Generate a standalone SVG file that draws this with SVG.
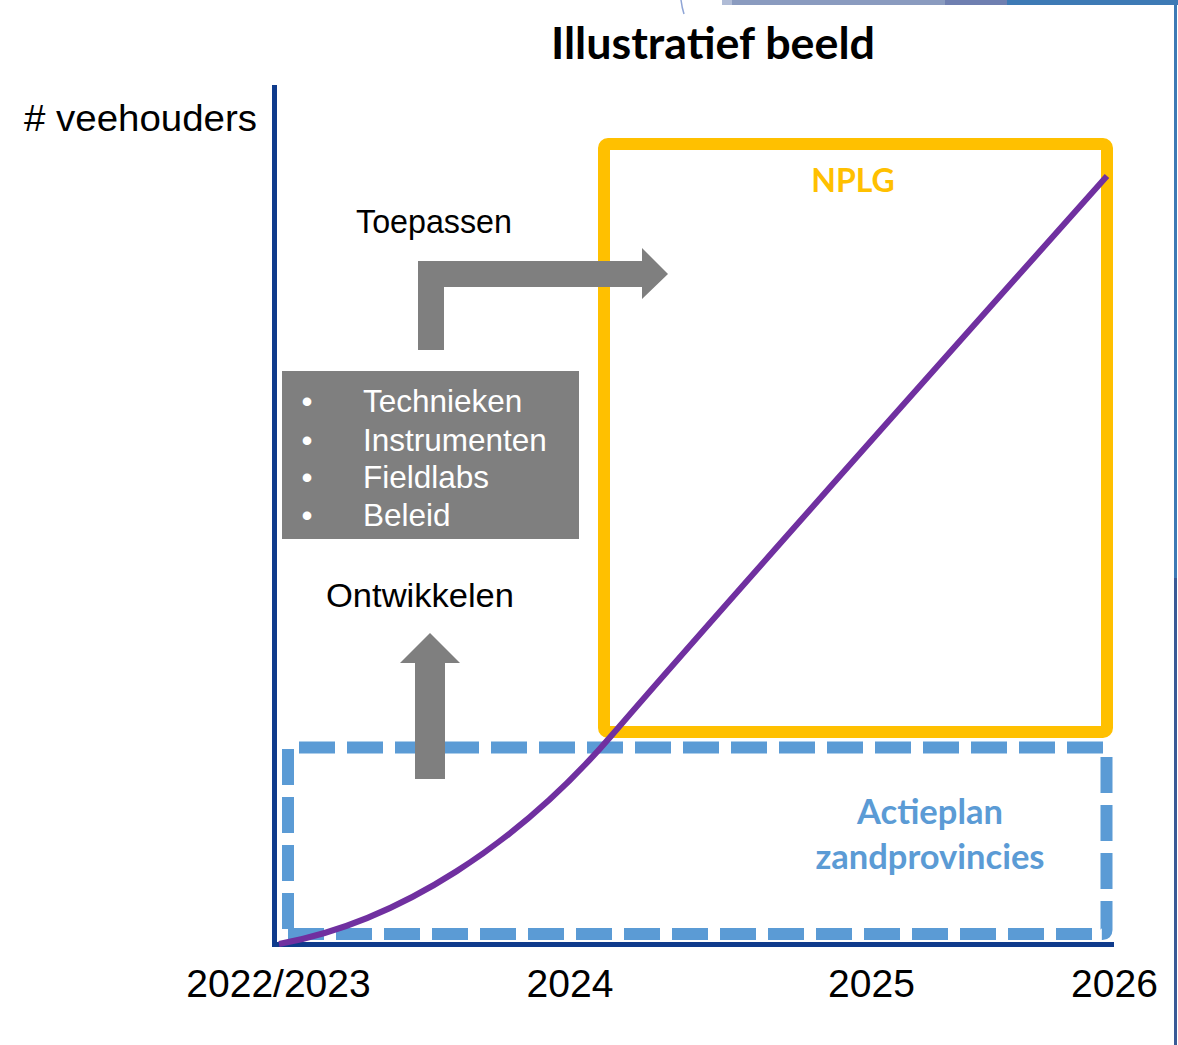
<svg xmlns="http://www.w3.org/2000/svg" width="1178" height="1045" viewBox="0 0 1178 1045">
<style>
.lbl{font-family:"Liberation Sans",Arial,sans-serif;fill:#000}
.cal{font-family:Lato,"Open Sans",sans-serif;font-weight:bold}
.wt{font-family:"Liberation Sans",Arial,sans-serif;fill:#fff;font-size:31.5px}
.gray{fill:#7f7f7f}
.dash{fill:none;stroke:#5b9bd5;stroke-width:12;stroke-dasharray:36 12}
</style>
<rect width="1178" height="1045" fill="#fff"/>
<g id="decor">
<path d="M681,0 Q682,8 684,14" fill="none" stroke="#8fa5d6" stroke-width="1.5"/>
<rect x="722" y="0" width="225" height="5" fill="#8a9bbf"/>
<rect x="722" y="0" width="10" height="5" fill="#b0bcd6"/>
<rect x="945" y="0" width="62" height="5" fill="#6f7fb0"/>
<rect x="1007" y="0" width="171" height="5" fill="#3d7ab5"/>
<rect x="1174" y="0" width="3" height="578" fill="#3d7ab5"/>
<rect x="1174" y="578" width="3" height="467" fill="#3a5a96"/>
</g>
<g id="title"><text class="cal" x="713" y="59" font-size="44" text-anchor="middle" textLength="324" lengthAdjust="spacingAndGlyphs">Illustratief beeld</text></g>
<g id="nplg">
<rect x="604" y="144" width="503" height="588" rx="4" fill="none" stroke="#ffc000" stroke-width="12"/>
<text class="cal" x="853" y="192" font-size="32" fill="#ffc000" text-anchor="middle">NPLG</text>
</g>
<g id="actieplan">
<line class="dash" x1="299" y1="747.5" x2="1103" y2="747.5"/>
<path class="dash" d="M1106.5,757 L1106.5,930 Q1106.5,934 1102.5,934 L1099,934"/>
<line class="dash" x1="288" y1="934" x2="1093" y2="934"/>
<line class="dash" x1="288" y1="749" x2="288" y2="929"/>
<text class="cal" x="930" y="824" font-size="34.5" fill="#5b9bd5" text-anchor="middle">Actieplan</text>
<text class="cal" x="930" y="869" font-size="34.5" fill="#5b9bd5" text-anchor="middle">zandprovincies</text>
</g>
<g id="axes">
<line x1="274.5" y1="85" x2="274.5" y2="946" stroke="#0f3b8c" stroke-width="5"/>
<line x1="272" y1="944.5" x2="1114" y2="944.5" stroke="#0f3b8c" stroke-width="5"/>
<text class="lbl" x="24" y="131" font-size="36" textLength="233" lengthAdjust="spacingAndGlyphs"># veehouders</text>
</g>
<g id="xlabels" class="lbl" font-size="39">
<text x="278.5" y="997" text-anchor="middle">2022/2023</text>
<text x="570" y="997" text-anchor="middle">2024</text>
<text x="871.5" y="997" text-anchor="middle">2025</text>
<text x="1114.5" y="997" text-anchor="middle">2026</text>
</g>
<g id="curve">
<path d="M279,944 C400,922 520,842 612,735 C704,628 950,352 1107,176" fill="none" stroke="#7030a0" stroke-width="6"/>
</g>
<g id="connectors">
<polygon class="gray" points="418,350 418,261 642,261 642,248 668,274 642,299 642,287 444,287 444,350"/>
<polygon class="gray" points="415,779 415,663 400,663 430,633 460,663 445,663 445,779"/>
</g>
<g id="toepassen"><text class="lbl" x="356" y="233" font-size="32.5" textLength="156" lengthAdjust="spacingAndGlyphs">Toepassen</text></g>
<g id="ontwikkelen"><text class="lbl" x="326" y="607" font-size="33" textLength="188" lengthAdjust="spacingAndGlyphs">Ontwikkelen</text></g>
<g id="box">
<rect class="gray" x="282" y="371" width="297" height="168"/>
<text class="wt" x="307" y="412" text-anchor="middle">•</text>
<text class="wt" x="363" y="412">Technieken</text>
<text class="wt" x="307" y="451" text-anchor="middle">•</text>
<text class="wt" x="363" y="451">Instrumenten</text>
<text class="wt" x="307" y="488" text-anchor="middle">•</text>
<text class="wt" x="363" y="488">Fieldlabs</text>
<text class="wt" x="307" y="526" text-anchor="middle">•</text>
<text class="wt" x="363" y="526">Beleid</text>
</g>
</svg>
